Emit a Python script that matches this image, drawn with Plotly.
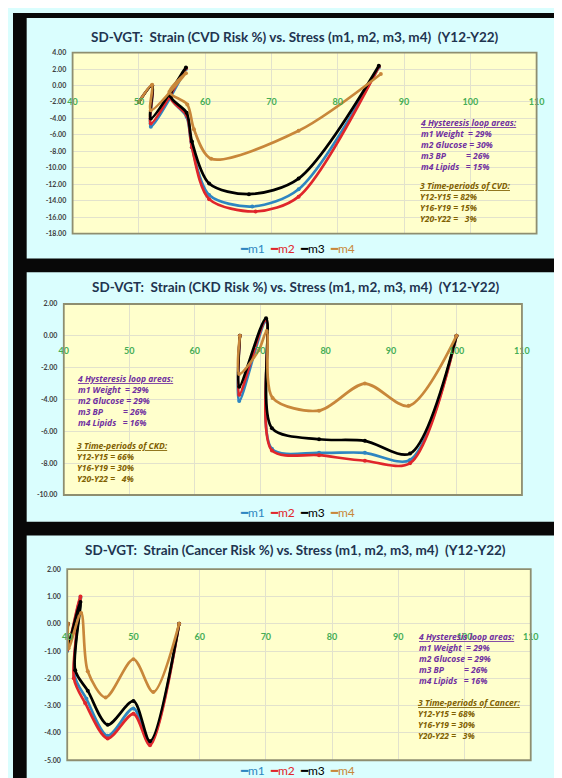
import plotly.graph_objects as go

# ---------------- data ----------------
series_names = ["m1", "m2", "m3", "m4"]
x_ticks = [40, 50, 60, 70, 80, 90, 100, 110]

# Panel 1: CVD risk
cvd_m1_x = [50.0, 52.0, 51.8, 57.1, 54.8, 57.2, 58.0, 60.6, 67.1, 74.1, 86.2]
cvd_m1_y = [-2.0, 0.0, -5.0, 2.0, -1.4, -3.8, -7.5, -13.3, -14.7, -12.6, 2.2]
cvd_m2_x = [50.0, 52.0, 51.8, 57.1, 54.8, 57.2, 58.0, 60.6, 67.6, 74.1, 86.2]
cvd_m2_y = [-2.0, 0.0, -4.6, 2.1, -1.5, -3.6, -7.5, -13.8, -15.3, -13.5, 2.3]
cvd_m3_x = [50.0, 52.0, 51.8, 57.1, 54.8, 57.2, 58.0, 60.6, 66.6, 74.1, 86.2]
cvd_m3_y = [-2.0, 0.0, -4.0, 2.2, -1.3, -3.3, -6.8, -11.9, -13.2, -11.3, 2.4]
cvd_m4_x = [50.0, 52.0, 51.8, 57.1, 54.6, 57.3, 58.3, 60.9, 74.1, 86.5]
cvd_m4_y = [-2.0, 0.1, -3.0, 1.5, -0.8, -2.3, -5.3, -8.9, -5.5, 1.4]
cvd_y_ticks = [4, 2, 0, -2, -4, -6, -8, -10, -12, -14, -16, -18]
cvd_areas = [29, 30, 26, 15]
cvd_periods = [82, 15, 3]

# Panel 2: CKD risk
ckd_m1_x = [66.9, 66.8, 70.9, 71.8, 79.0, 86.0, 92.9, 100.0]
ckd_m1_y = [0.0, -4.1, 0.9, -7.1, -7.35, -7.35, -7.8, 0.0]
ckd_m2_x = [66.9, 66.8, 70.9, 71.8, 79.0, 86.0, 92.9, 100.0]
ckd_m2_y = [0.0, -3.7, 1.0, -7.2, -7.5, -7.85, -8.0, 0.0]
ckd_m3_x = [66.9, 66.8, 70.9, 71.8, 79.0, 86.0, 92.9, 100.0]
ckd_m3_y = [0.0, -3.2, 1.1, -5.8, -6.5, -6.6, -7.4, 0.0]
ckd_m4_x = [66.9, 66.8, 69.8, 71.0, 71.9, 79.0, 86.0, 92.7, 100.0]
ckd_m4_y = [0.0, -2.4, -0.9, 0.3, -3.9, -4.7, -3.0, -4.4, 0.0]
ckd_y_ticks = [2, 0, -2, -4, -6, -8, -10]
ckd_areas = [29, 29, 26, 16]
ckd_periods = [66, 30, 4]

# Panel 3: Cancer risk
can_m1_x = [40.1, 40.0, 42.0, 41.1, 42.9, 46.1, 50.0, 52.5, 56.9]
can_m1_y = [0.0, -1.0, 0.95, -1.9, -2.75, -4.1, -3.1, -4.4, 0.0]
can_m2_x = [40.1, 40.0, 42.0, 41.0, 42.7, 46.1, 50.0, 52.5, 56.9]
can_m2_y = [0.0, -0.95, 1.0, -2.0, -2.9, -4.2, -3.3, -4.45, 0.0]
can_m3_x = [40.1, 40.0, 42.0, 41.2, 43.1, 46.1, 50.0, 52.5, 56.9]
can_m3_y = [0.0, -0.9, 0.8, -1.7, -2.45, -3.7, -2.83, -4.3, 0.0]
can_m4_x = [40.1, 40.2, 42.1, 43.1, 45.8, 50.0, 53.0, 56.9]
can_m4_y = [0.0, -0.9, 0.4, -1.74, -2.7, -1.3, -2.5, 0.0]
can_y_ticks = [2, 1, 0, -1, -2, -3, -4, -5]
can_areas = [29, 29, 26, 16]
can_periods = [68, 30, 3]

# ---------------- style ----------------
W, H = 562, 778
CYAN = "#DAFEFE"
YELLOW = "#FFFFCC"
DARK = "#080808"
COLORS = ["#2E86C1", "#E0262B", "#000000", "#C8873A"]
PURPLE = "#7030A0"
BROWN = "#7F6000"
FONT = "Lato"
NOTE_FONT = "Open Sans"


def fx(p):
    return p / W


def fy(p):
    return 1 - p / H


panels = [
    dict(cond="CVD", xs=[cvd_m1_x, cvd_m2_x, cvd_m3_x, cvd_m4_x],
         ys=[cvd_m1_y, cvd_m2_y, cvd_m3_y, cvd_m4_y], yt=cvd_y_ticks,
         areas=cvd_areas, periods=cvd_periods,
         box=(61, 536, 40, 223), title_y=24, leg_y=238,
         note_x=415, note1_top=103, note2_top=167, tlen=8),
    dict(cond="CKD", xs=[ckd_m1_x, ckd_m2_x, ckd_m3_x, ckd_m4_x],
         ys=[ckd_m1_y, ckd_m2_y, ckd_m3_y, ckd_m4_y], yt=ckd_y_ticks,
         areas=ckd_areas, periods=ckd_periods,
         box=(52, 521, 294, 487), title_y=277, leg_y=505,
         note_x=63, note1_top=362, note2_top=429, tlen=6),
    dict(cond="Cancer", xs=[can_m1_x, can_m2_x, can_m3_x, can_m4_x],
         ys=[can_m1_y, can_m2_y, can_m3_y, can_m4_y], yt=can_y_ticks,
         areas=can_areas, periods=can_periods,
         box=(55.5, 530, 562, 755), title_y=543, leg_y=765,
         note_x=413, note1_top=622, note2_top=689, tlen=4),
]

fig = go.Figure()
layout = dict(
    width=W, height=H, margin=dict(l=0, r=0, t=0, b=0),
    paper_bgcolor=CYAN, plot_bgcolor=YELLOW,
    font=dict(family=FONT), shapes=[], annotations=[], showlegend=False,
)

# black frame / separators between the three panels
for (a, b, c, d) in [(0, 0, 14, H), (0, 0, W, 5), (0, 248, W, 262),
                     (0, 514, W, 528), (558, 0, W, H)]:
    layout["shapes"].append(dict(type="rect", xref="paper", yref="paper",
                                 x0=fx(a), x1=fx(c), y0=fy(d), y1=fy(b),
                                 fillcolor=DARK, line=dict(width=0), layer="below"))

nb = "\u00a0"
legend_text = (nb * 2).join(
    f"<span style='color:{COLORS[k]}'>\u2501{n}</span>" for k, n in enumerate(series_names)
)

for i, p in enumerate(panels, start=1):
    sfx = "" if i == 1 else str(i)
    xa, ya = "x" + sfx, "y" + sfx
    x0, x1, y0, y1 = p["box"]
    yr = [min(p["yt"]), max(p["yt"])]
    ydom = [fy(y1), fy(y0)]
    frac0 = (0 - yr[0]) / (yr[1] - yr[0])
    xpos = ydom[0] + frac0 * (ydom[1] - ydom[0])

    for k, name in enumerate(series_names):
        fig.add_trace(go.Scatter(
            x=p["xs"][k], y=p["ys"][k], mode="lines+markers", name=name,
            line=dict(color=COLORS[k], width=2.7, shape="spline", smoothing=0.85),
            marker=dict(size=4, color=COLORS[k]),
            xaxis=xa, yaxis=ya,
        ))

    layout["xaxis" + sfx] = dict(
        domain=[fx(x0), fx(x1)], range=[40, 110], tickvals=x_ticks,
        ticktext=[str(v) for v in x_ticks],
        anchor="free", position=xpos, showline=False, zeroline=False,
        showgrid=True, gridcolor="#E2E2CC", gridwidth=1,
        ticks="outside", ticklen=p["tlen"], tickcolor="rgba(0,0,0,0)",
        tickfont=dict(family=FONT, size=9, color="#45AD55", weight="bold"),
    )
    layout["yaxis" + sfx] = dict(
        domain=ydom, range=yr, anchor=xa, tickvals=p["yt"],
        ticktext=[f"{v:.2f}" for v in p["yt"]],
        showline=False, zeroline=False, showgrid=True,
        gridcolor="#E2E2CC", gridwidth=1,
        ticks="outside", ticklen=4, tickcolor="rgba(0,0,0,0)",
        tickfont=dict(family=FONT, size=7, color="#404040", weight="bold"),
    )
    # plot-area border
    layout["shapes"].append(dict(type="rect", xref=xa + " domain", yref=ya + " domain",
                                 x0=0, x1=1, y0=0, y1=1,
                                 line=dict(color="#8E8E70", width=1.8), layer="above"))
    # title
    layout["annotations"].append(dict(
        xref="paper", yref="paper", x=fx(289), y=fy(p["title_y"]),
        xanchor="center", yanchor="middle", showarrow=False,
        text=f"<b>SD-VGT:  Strain ({p['cond']} Risk %) vs. Stress (m1, m2, m3, m4)  (Y12-Y22)</b>",
        font=dict(family=FONT, size=13.5, color="#1F3450"),
    ))
    a = p["areas"]
    t1 = (f"<u>4 Hysteresis loop areas:</u><br>"
          f"m1 Weight{nb*2}= {a[0]}%<br>"
          f"m2 Glucose = {a[1]}%<br>"
          f"m3 BP{nb*9}= {a[2]}%<br>"
          f"m4 Lipids{nb*3}= {a[3]}%")
    pr = p["periods"]
    t2 = (f"<u>3 Time-periods of {p['cond']}:</u><br>"
          f"Y12-Y15 = {pr[0]}%<br>"
          f"Y16-Y19 = {pr[1]}%<br>"
          f"Y20-Y22 ={nb*3}{pr[2]}%")
    for txt, top, col in [(t1, p["note1_top"], PURPLE), (t2, p["note2_top"], BROWN)]:
        layout["annotations"].append(dict(
            xref="paper", yref="paper", x=fx(p["note_x"]), y=fy(top),
            xanchor="left", yanchor="top", align="left", showarrow=False,
            text=f"<b><i>{txt}</i></b>",
            font=dict(family=NOTE_FONT, size=8.5, color=col),
        ))
    # legend row (series keys)
    layout["annotations"].append(dict(
        xref="paper", yref="paper", x=fx(291), y=fy(p["leg_y"]),
        xanchor="center", yanchor="middle", showarrow=False,
        text=legend_text, font=dict(family=FONT, size=12),
    ))

fig.update_layout(**layout)
fig.write_html("out.html")
